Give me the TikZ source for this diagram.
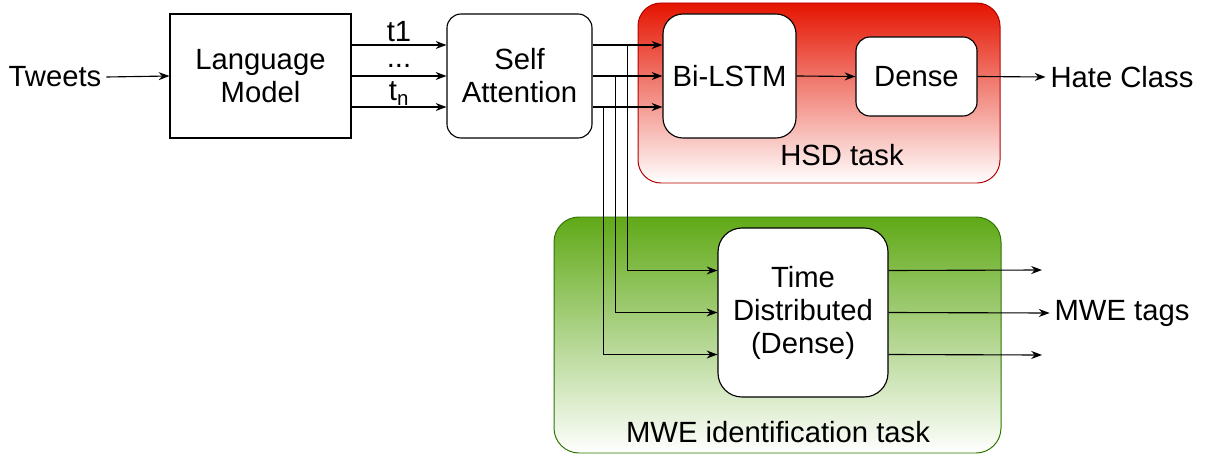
\documentclass[tikz,border=0pt]{standalone}
\usepackage{fontspec}
\setmainfont{Liberation Sans}
\usetikzlibrary{arrows.meta}

\definecolor{hsdred}{HTML}{E51400}
\definecolor{hsdline}{HTML}{B20000}
\definecolor{mwegreen}{HTML}{60A917}
\definecolor{mweline}{HTML}{2D7600}

\tikzset{
	box/.style={draw, fill=white, line width=0.8pt, align=center, inner sep=0pt},
	rbox/.style={box, rounded corners=0.35cm},
	arr/.style={line width=0.8pt, -{Stealth[length=0.27cm,width=0.2cm]}},
	every node/.style={font=\fontsize{20.8}{23.5}\selectfont}
}

\begin{document}
\begin{tikzpicture}
		\useasboundingbox (0,0) rectangle (30.225,-11.375);
		
		% task regions
		\shade[top color=hsdred, bottom color=white, rounded corners=0.575cm] (15.95,-0.075) rectangle (25,-4.575);
		\draw[hsdline, line width=0.7pt, rounded corners=0.575cm] (15.95,-0.075) rectangle (25,-4.575);
		\node (hsdtask) at (21.05,-3.875) {HSD task};
		
		\shade[top color=mwegreen, bottom color=white, rounded corners=0.625cm] (13.85,-5.425) rectangle (25.025,-11.325);
		\draw[mweline, line width=0.7pt, rounded corners=0.625cm] (13.85,-5.425) rectangle (25.025,-11.325);
		\node (mwetask) at (19.45,-10.8) {MWE identification task};
		
		% blocks
		\node (tweets) at (1.375,-1.925) {Tweets};
		\node[box, minimum width=4.525cm, minimum height=3.1cm] (lm) at (6.5125,-1.9) {Language\\Model};
		\node[rbox, minimum width=3.625cm, minimum height=3.1cm] (sa) at (12.9875,-1.9) {Self\\Attention};
		\node[rbox, rounded corners=0.5cm, minimum width=3.325cm, minimum height=3.1cm] (bilstm) at (18.2375,-1.9) {Bi-LSTM};
		\node[rbox, minimum width=3.025cm, minimum height=1.975cm] (dense) at (22.9125,-1.9125) {Dense};
		\node (hate) at (28.05,-1.925) {Hate Class};
		
		\node[rbox, rounded corners=0.6cm, minimum width=4.25cm, minimum height=4.225cm] (td) at (20.075,-7.8125) {Time\\Distributed\\(Dense)};
		\node (mwe) at (28.05,-7.825) {MWE tags};
		\coordinate (out1) at (26.05,-6.75);
		\coordinate (out3) at (26.05,-8.875);
		
		% connectors
		\draw[arr] (tweets.east) -- (lm.west);
		\draw[arr] ([yshift=0.775cm]lm.east) -- node[above, inner sep=2pt] {t1} ([yshift=0.775cm]sa.west);
		\draw[arr] (lm.east) -- node[anchor=base, yshift=0.22cm, inner sep=0pt] {...} (sa.west);
		\draw[arr] ([yshift=-0.775cm]lm.east) -- node[above, inner sep=1pt] {t\textsubscript{n}} ([yshift=-0.775cm]sa.west);
		
		\draw[arr] ([yshift=0.775cm]sa.east) -- ([yshift=0.775cm]bilstm.west);
		\draw[arr] (sa.east) -- (bilstm.west);
		\draw[arr] ([yshift=-0.775cm]sa.east) -- ([yshift=-0.775cm]bilstm.west);
		
		\draw[arr] ([yshift=0.775cm]sa.east) -- ++(0.875,0) |- ([yshift=1.05cm]td.west);
		\draw[arr] (sa.east) -- ++(0.575,0) |- (td.west);
		\draw[arr] ([yshift=-0.775cm]sa.east) -- ++(0.275,0) |- ([yshift=-1.05cm]td.west);
		
		\draw[arr] (bilstm.east) -- (dense.west);
		\draw[arr] (dense.east) -- (hate.west);
		
		\draw[arr] ([yshift=1.05cm]td.east) -- (out1);
		\draw[arr] (td.east) -- (mwe.west);
		\draw[arr] ([yshift=-1.05cm]td.east) -- (out3);
	\end{tikzpicture}
\end{document}
